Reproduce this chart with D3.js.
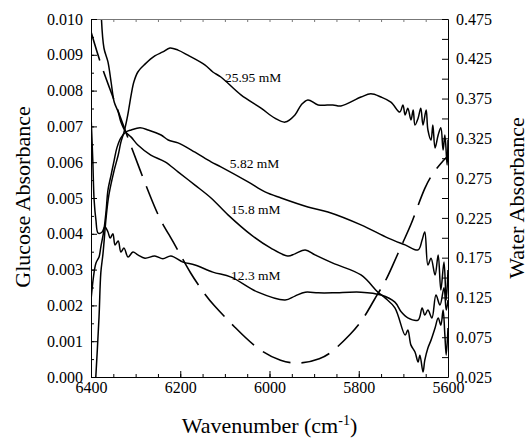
<!DOCTYPE html>
<html>
<head>
<meta charset="utf-8">
<script src="https://cdn.jsdelivr.net/npm/d3@7/dist/d3.min.js"></script>
<style>
  body { margin: 0; background: #fff; }
</style>
</head>
<body>
<script>
// glucose spectra (left axis)
const wave2595 = [6391, 6382, 6378, 6373, 6366, 6360, 6348, 6339, 6333, 6326, 6319, 6315, 6310, 6304, 6295, 6279, 6257, 6239, 6223, 6205, 6183, 6145, 6127, 6109, 6064, 6019, 5988, 5965, 5943, 5929, 5914, 5891, 5858, 5840, 5795, 5773, 5750, 5728, 5708, 5701, 5696, 5690, 5683, 5678, 5674, 5667, 5661, 5656, 5649, 5645, 5638, 5634, 5629, 5622, 5616, 5611, 5607, 5602, 5600];
const abs2595  = [-0.0004, 0.00168, 0.00291, 0.00346, 0.00447, 0.00508, 0.00578, 0.00620, 0.00656, 0.00684, 0.00723, 0.00751, 0.00788, 0.00824, 0.00852, 0.00874, 0.00897, 0.00908, 0.00919, 0.00913, 0.00899, 0.00872, 0.00852, 0.00838, 0.00788, 0.00751, 0.00723, 0.00712, 0.00732, 0.00760, 0.00774, 0.00760, 0.00760, 0.00757, 0.00782, 0.00791, 0.00782, 0.00768, 0.00740, 0.00760, 0.00732, 0.00751, 0.00718, 0.00746, 0.00704, 0.00723, 0.00751, 0.00704, 0.00746, 0.00690, 0.00662, 0.00704, 0.00640, 0.00676, 0.00696, 0.00634, 0.00676, 0.00592, 0.00662];

const wave582 = [6400, 6389, 6382, 6378, 6371, 6366, 6362, 6355, 6348, 6342, 6333, 6322, 6310, 6290, 6272, 6243, 6227, 6205, 6167, 6131, 6109, 6048, 6010, 5974, 5914, 5869, 5795, 5734, 5696, 5667, 5658, 5652, 5645, 5638, 5629, 5622, 5616, 5609, 5604, 5600];
const abs582  = [0.00215, 0.00318, 0.00335, 0.00363, 0.00411, 0.00466, 0.00522, 0.00564, 0.00606, 0.00640, 0.00668, 0.00684, 0.00690, 0.00696, 0.00690, 0.00676, 0.00662, 0.00654, 0.00628, 0.00601, 0.00587, 0.00545, 0.00517, 0.00500, 0.00475, 0.00461, 0.00425, 0.00388, 0.00369, 0.00355, 0.00383, 0.00405, 0.00313, 0.00332, 0.00285, 0.00341, 0.00243, 0.00321, 0.00215, 0.00299];

const wave158 = [6378, 6371, 6362, 6355, 6348, 6339, 6333, 6322, 6310, 6295, 6266, 6234, 6205, 6167, 6131, 6093, 6041, 5997, 5959, 5943, 5920, 5898, 5858, 5795, 5757, 5741, 5719, 5696, 5690, 5683, 5674, 5667, 5663, 5656, 5652, 5645, 5638, 5629, 5622, 5616, 5611, 5607, 5604, 5600];
const abs158  = [0.0104, 0.00919, 0.00880, 0.00824, 0.00768, 0.00740, 0.00712, 0.00684, 0.00670, 0.00648, 0.00620, 0.00601, 0.00573, 0.00536, 0.00500, 0.00453, 0.00397, 0.00360, 0.00338, 0.00344, 0.00355, 0.00341, 0.00318, 0.00285, 0.00237, 0.00221, 0.00193, 0.00117, 0.00131, 0.00089, 0.00070, 0.00042, 0.00061, 0.00014, 0.00047, 0.00081, 0.00103, 0.00137, 0.00165, 0.00145, 0.00187, 0.00117, 0.00061, 0.00137];

const wave123 = [6400, 6396, 6393, 6389, 6384, 6375, 6369, 6362, 6357, 6351, 6346, 6339, 6333, 6326, 6317, 6306, 6295, 6279, 6257, 6239, 6221, 6194, 6167, 6127, 6086, 6026, 5965, 5943, 5920, 5891, 5858, 5795, 5750, 5719, 5705, 5690, 5667, 5658, 5652, 5645, 5636, 5627, 5618, 5609, 5604, 5600];
const abs123  = [0.00732, 0.00606, 0.00494, 0.00439, 0.00402, 0.00405, 0.00420, 0.00405, 0.00388, 0.00400, 0.00369, 0.00380, 0.00349, 0.00360, 0.00335, 0.00349, 0.00341, 0.00332, 0.00338, 0.00330, 0.00338, 0.00321, 0.00313, 0.00293, 0.00279, 0.00237, 0.00215, 0.00226, 0.00237, 0.00235, 0.00235, 0.00237, 0.00229, 0.00209, 0.00182, 0.00165, 0.00159, 0.00193, 0.00173, 0.00187, 0.00165, 0.00229, 0.00201, 0.00249, 0.00187, 0.00215];

// water spectrum (right axis, dashed)
const waveWater = [6400, 6380, 6357, 6335, 6313, 6290, 6268, 6245, 6223, 6201, 6178, 6149, 6127, 6077, 6026, 5974, 5929, 5885, 5862, 5817, 5788, 5766, 5743, 5728, 5699, 5683, 5667, 5652, 5638, 5616, 5600];
const absWater  = [0.459, 0.421, 0.386, 0.353, 0.319, 0.285, 0.253, 0.222, 0.202, 0.180, 0.156, 0.132, 0.116, 0.087, 0.059, 0.044, 0.041, 0.048, 0.055, 0.079, 0.099, 0.122, 0.142, 0.160, 0.197, 0.216, 0.241, 0.263, 0.278, 0.294, 0.303];

const curveNames = ["25.95 mM", "5.82 mM", "15.8 mM", "12.3 mM"];
const labelWave = [6100, 6089, 6086, 6086];
const labelAbs  = [0.00824, 0.00584, 0.00455, 0.00271];

const xTicks = [6400, 6200, 6000, 5800, 5600];
const leftTicks = d3.range(0, 11).map(i => i / 1000);
const rightTicks = [0.025, 0.075, 0.125, 0.175, 0.225, 0.275, 0.325, 0.375, 0.425, 0.475];

const width = 528, height = 439;
const margin = {top: 19, right: 80, bottom: 62, left: 91};
const serif = "'Liberation Serif', 'Times New Roman', Times, serif";

const svg = d3.select("body").append("svg")
    .attr("width", width)
    .attr("height", height)
    .style("background", "#fff");

const x = d3.scaleLinear().domain([6400, 5600]).range([margin.left, width - margin.right]);
const yL = d3.scaleLinear().domain([0, 0.010]).range([height - margin.bottom, margin.top]);
const yR = d3.scaleLinear().domain([0.025, 0.475]).range([height - margin.bottom, margin.top]);

svg.append("clipPath").attr("id", "plot")
  .append("rect")
    .attr("x", margin.left).attr("y", margin.top)
    .attr("width", x.range()[1] - margin.left)
    .attr("height", yL.range()[0] - margin.top);

const glucose = [
  [wave2595, abs2595],
  [wave582, abs582],
  [wave158, abs158],
  [wave123, abs123]
];

const lineL = d3.line()
    .x(d => x(d[0]))
    .y(d => yL(d[1]))
    .curve(d3.curveCatmullRom.alpha(0.5));

const plot = svg.append("g").attr("clip-path", "url(#plot)");

plot.selectAll("path.glu")
  .data(glucose)
  .enter().append("path")
    .attr("class", "glu")
    .attr("d", s => lineL(d3.zip(s[0], s[1])))
    .attr("fill", "none")
    .attr("stroke", "#000")
    .attr("stroke-width", 1.5)
    .attr("stroke-linejoin", "round");

const lineR = d3.line()
    .x(d => x(d[0]))
    .y(d => yR(d[1]))
    .curve(d3.curveBasis);

plot.append("path")
    .attr("d", lineR(d3.zip(waveWater, absWater)))
    .attr("fill", "none")
    .attr("stroke", "#000")
    .attr("stroke-width", 1.6)
    .attr("stroke-dasharray", "30,11");

// axes
const bottom = height - margin.bottom;
const right = width - margin.right;

const minorX = d3.range(6400, 5599, -50);
const minorL = d3.range(0, 0.0101, 0.0005);

svg.append("g")
    .attr("transform", `translate(0,${bottom})`)
    .call(d3.axisBottom(x).tickValues(minorX).tickSize(-3).tickFormat(""))
    .call(g => g.select(".domain").remove());

svg.append("g")
    .attr("transform", `translate(0,${bottom})`)
    .call(d3.axisBottom(x).tickValues(xTicks).tickSize(-6).tickSizeOuter(0).tickPadding(5).tickFormat(d3.format("d")));

svg.append("g")
    .attr("transform", `translate(0,${margin.top})`)
    .call(d3.axisTop(x).tickValues(minorX).tickSize(-3).tickSizeOuter(0).tickFormat(""))
    .call(g => g.selectAll("line, path").attr("stroke", "#777"));

svg.append("g")
    .attr("transform", `translate(${margin.left},0)`)
    .call(d3.axisLeft(yL).tickValues(minorL).tickSize(-3).tickFormat(""))
    .call(g => g.select(".domain").remove());

svg.append("g")
    .attr("transform", `translate(${margin.left},0)`)
    .call(d3.axisLeft(yL).tickValues(leftTicks).tickSize(-6).tickSizeOuter(0).tickPadding(8).tickFormat(d3.format(".3f")));

svg.append("g")
    .attr("transform", `translate(${right},0)`)
    .call(d3.axisRight(yR).tickValues(d3.range(0.025, 0.476, 0.025)).tickSize(-6).tickSizeOuter(0).tickFormat(""));

svg.append("g")
    .attr("transform", `translate(${right},0)`)
    .call(d3.axisRight(yR).tickValues(rightTicks).tickSize(0).tickPadding(8).tickFormat(d3.format(".3f")))
    .call(g => g.select(".domain").remove());

svg.selectAll("g.tick line").attr("stroke-width", 1);
svg.selectAll("g.tick text").style("font-size", "16px");

// curve labels
svg.selectAll("text.curve")
  .data(curveNames)
  .enter().append("text")
    .attr("class", "curve")
    .attr("x", (d, i) => x(labelWave[i]))
    .attr("y", (d, i) => yL(labelAbs[i]))
    .style("font-size", "13.5px")
    .text(d => d);

// axis titles
svg.append("text")
    .attr("transform", "translate(30,197) rotate(-90)")
    .attr("text-anchor", "middle")
    .style("font-size", "22px")
    .text("Glucose Absorbance");

svg.append("text")
    .attr("transform", "translate(524,198) rotate(-90)")
    .attr("text-anchor", "middle")
    .style("font-size", "22px")
    .text("Water Absorbance");

const xt = svg.append("text")
    .attr("x", (margin.left + right) / 2)
    .attr("y", 433)
    .attr("text-anchor", "middle")
    .style("font-size", "22px");
xt.append("tspan").text("Wavenumber (cm");
xt.append("tspan").attr("dy", -8).style("font-size", "14px").text("-1");
xt.append("tspan").attr("dy", 8).text(")");

svg.selectAll("text").style("font-family", serif).attr("fill", "#000");
</script>
</body>
</html>
